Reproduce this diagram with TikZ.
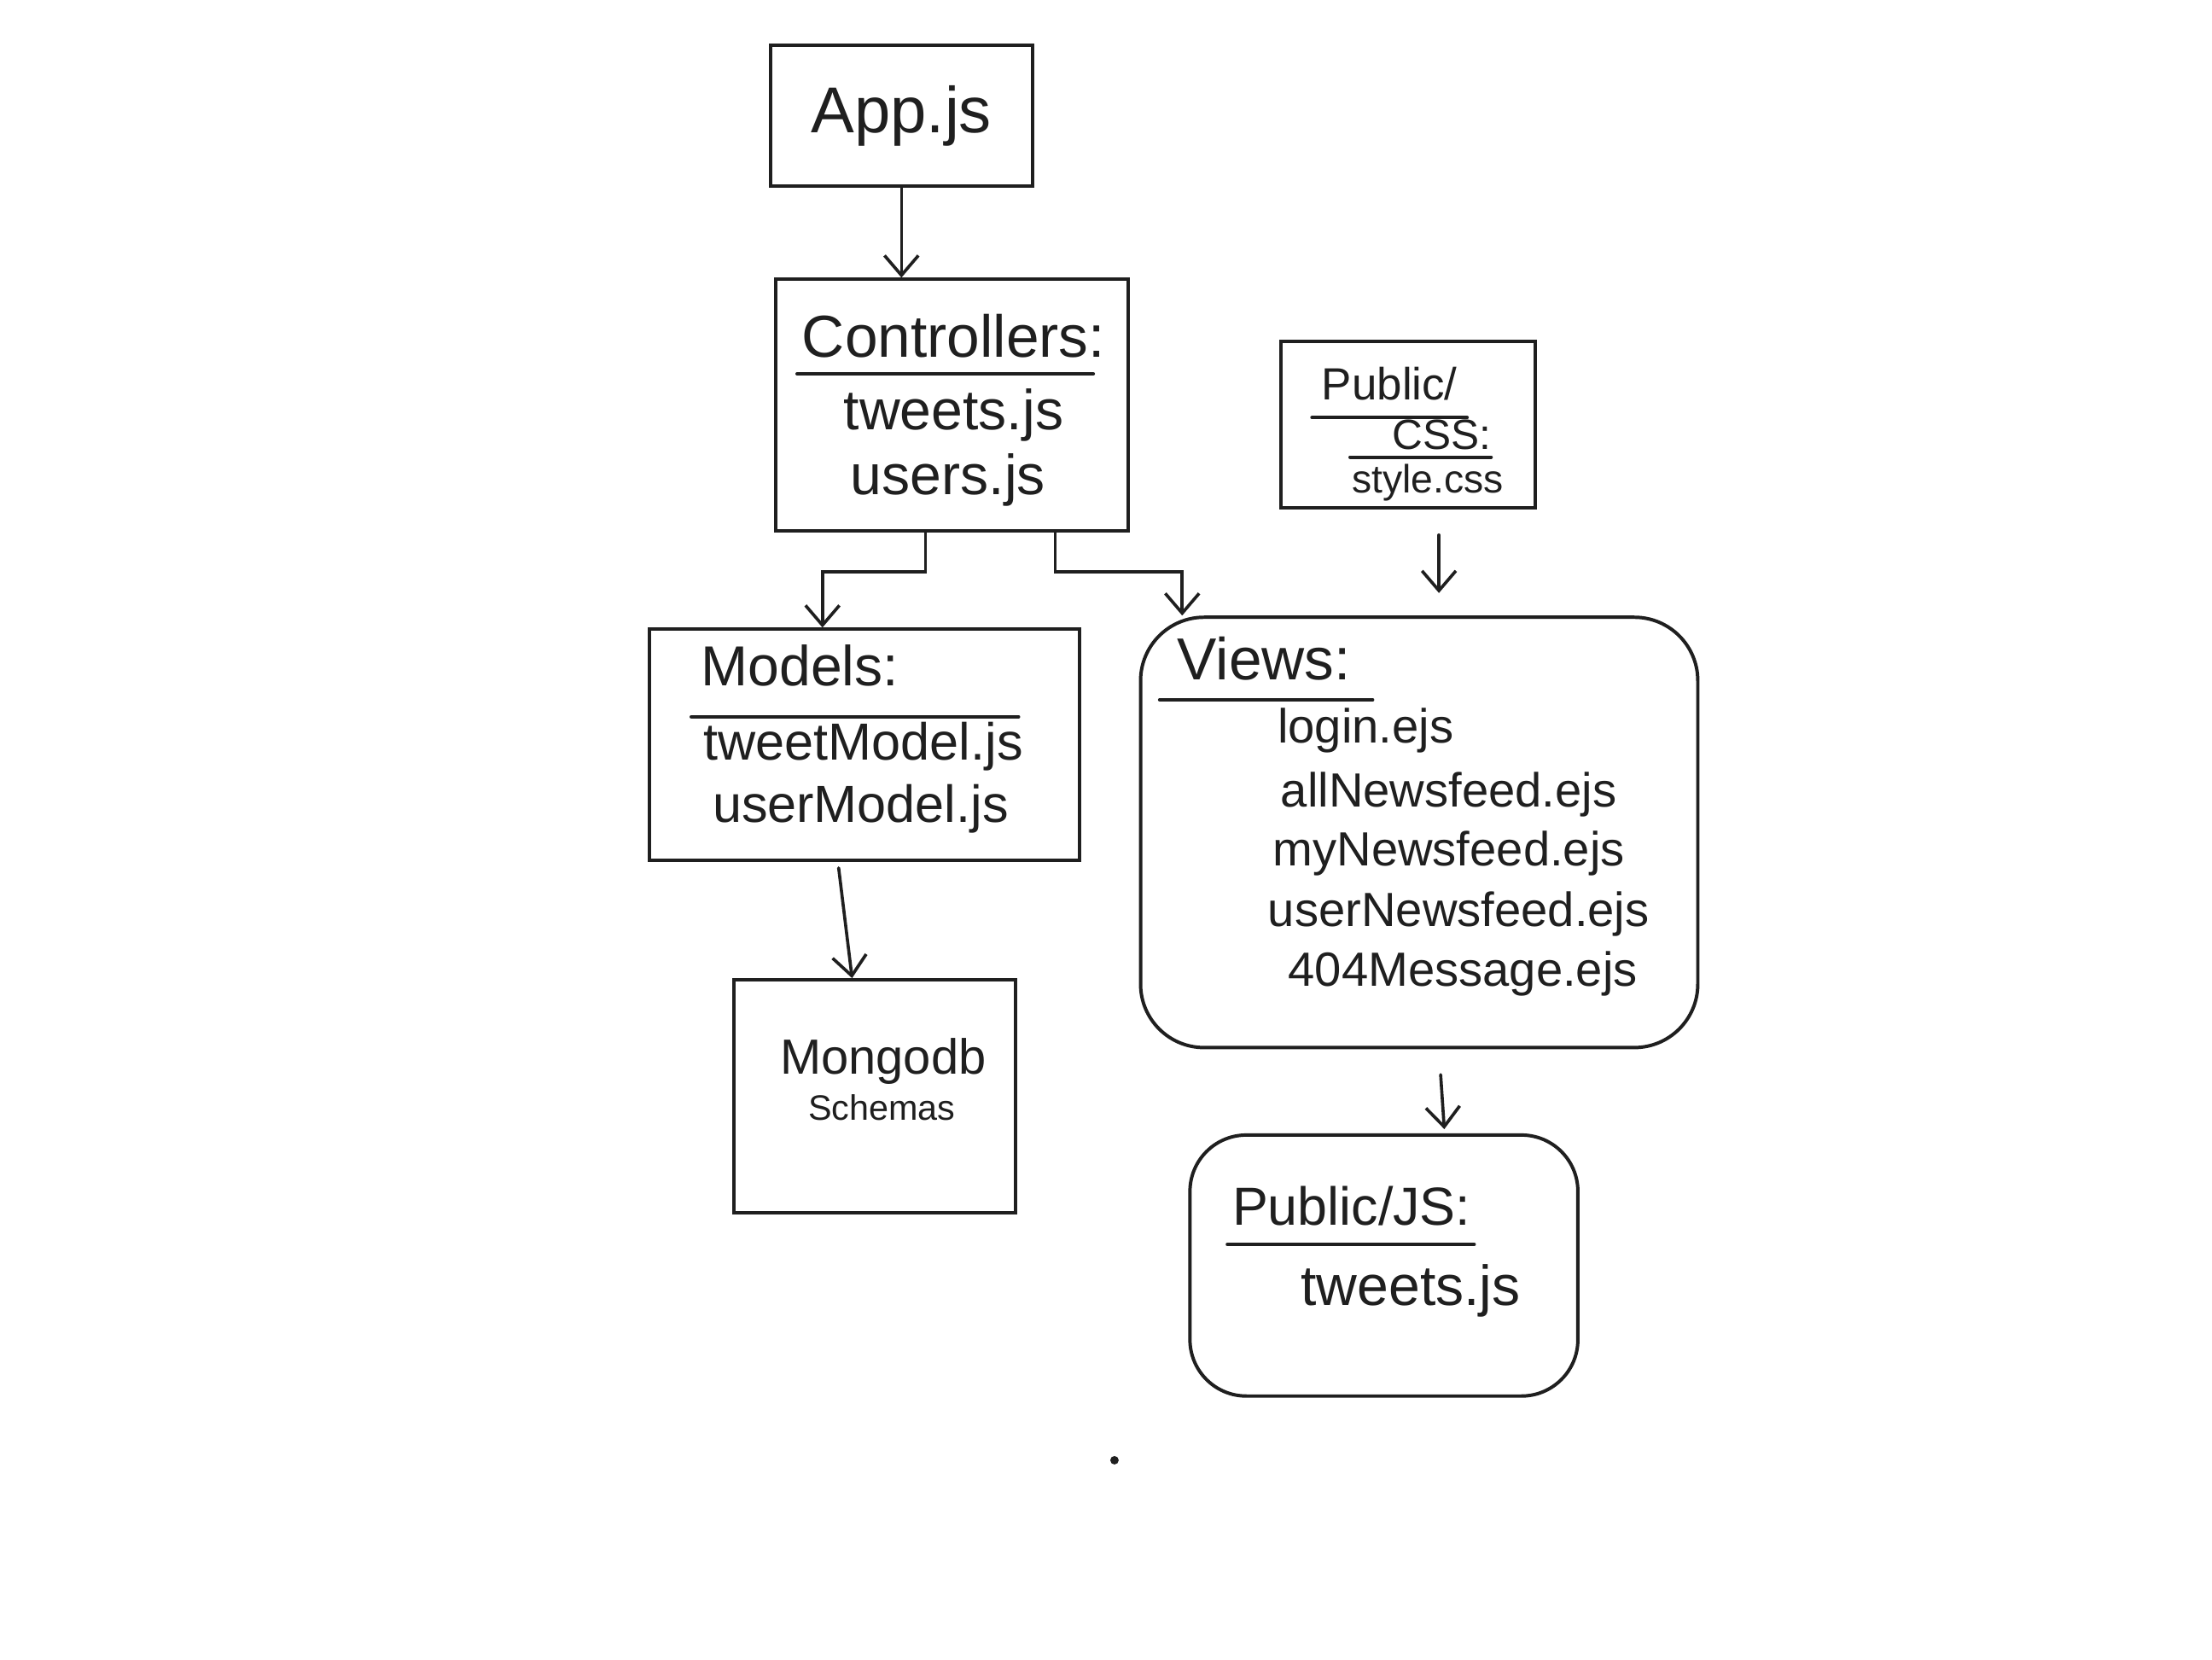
\documentclass[tikz,border=0pt]{standalone}
\usepackage{fontspec}
\setmainfont{Liberation Sans}
\usetikzlibrary{arrows.meta,calc}
\definecolor{ink}{gray}{0.12}
\newcommand{\fsz}[1]{\fontsize{#1}{#1}\selectfont}
\tikzset{
  box/.style 2 args={draw=ink, line width=2.4pt, minimum width=#1pt, minimum height=#2pt, inner sep=0pt},
  txt/.style={inner sep=0pt, text=ink, anchor=center},
  ul/.style={draw=ink, line width=2.4pt, line cap=round},
  arr/.style={draw=ink, line width=2.2pt, line cap=round, -{Straight Barb[length=14pt,width=24pt,line width=2.2pt]}}
}
\begin{document}
\begin{tikzpicture}[x=1pt,y=-1pt]
\useasboundingbox[fill=white] (0,0) rectangle (1568,1176);

% boxes
\node[box={186}{100}, font=\fsz{46}, text=ink] (app) at (639,82) {App.js};
\node[box={250}{178}] (ctrl) at (675,287) {};
\node[box={180}{118}] (pcss) at (998,301) {};
\node[box={305}{164}] (mod) at (613,528) {};
\node[box={395}{305}, rounded corners=45pt] (views) at (1006,590) {};
\node[box={200}{165}] (mongo) at (620,777) {};
\node[box={275}{185}, rounded corners=40pt] (pjs) at (981,897) {};

% Controllers text
\node[txt, font=\fsz{42}] (ctrlt) at (676,238) {Controllers:};
\draw[ul] (565,265) -- (775,265);
\node[txt, font=\fsz{40}] (ctrl1) at (676,294) {tweets.js};
\node[txt, font=\fsz{40}] (ctrl2) at (672,340) {users.js};

% Public/CSS text
\node[txt, font=\fsz{32}] (pcsst) at (985,272) {Public/};
\draw[ul] (930,296) -- (1040,296);
\node[txt, font=\fsz{30}] (pcss1) at (1022,308) {CSS:};
\draw[ul] (957,324) -- (1057,324);
\node[txt, font=\fsz{28}] (pcss2) at (1012,342) {style.css};

% Models text
\node[txt, font=\fsz{40}] (modt) at (567,472) {Models:};
\draw[ul] (490,508) -- (722,508);
\node[txt, font=\fsz{37}] (mod1) at (612,529) {tweetModel.js};
\node[txt, font=\fsz{37}] (mod2) at (610,573) {userModel.js};

% Views text
\node[txt, font=\fsz{42}] (viewst) at (896,467) {Views:};
\draw[ul] (822,496) -- (973,496);
\node[txt, font=\fsz{34}] (v1) at (968,518) {login.ejs};
\node[txt, font=\fsz{34}] (v2) at (1027,563) {allNewsfeed.ejs};
\node[txt, font=\fsz{34}] (v3) at (1027,605) {myNewsfeed.ejs};
\node[txt, font=\fsz{34}] (v4) at (1034,648) {userNewsfeed.ejs};
\node[txt, font=\fsz{34}] (v5) at (1037,690) {404Message.ejs};

% Mongodb text
\node[txt, font=\fsz{35}] (mongo1) at (626,752) {Mongodb};
\node[txt, font=\fsz{25}] (mongo2) at (625,785) {Schemas};

% Public/JS text
\node[txt, font=\fsz{38}] (pjst) at (958,855) {Public/JS:};
\draw[ul] (870,882) -- (1045,882);
\node[txt, font=\fsz{40}] (pjs1) at (1000,915) {tweets.js};

% connectors
\draw[arr] (app.south) -- (app.south |- ctrl.north);
\draw[arr] ([xshift=-19pt]ctrl.south) -- ++(0,28) -| ([xshift=-30pt]mod.north);
\draw[arr] ([xshift=73pt]ctrl.south) -- ++(0,28) -| ([xshift=-168pt]views.north);
\draw[arr, shorten <=18pt, shorten >=16pt] ([xshift=22pt]pcss.south) -- ([xshift=22pt]pcss.south |- views.north);
\draw[arr, shorten <=4pt] ([xshift=-19pt]mod.south) -- ([xshift=-16pt]mongo.north);
\draw[arr, shorten <=18pt, shorten >=3pt] ([xshift=14pt]views.south) -- ([xshift=43pt]pjs.north);

% stray dot
\fill[ink] (790,1035) circle (3pt);
\end{tikzpicture}
\end{document}
